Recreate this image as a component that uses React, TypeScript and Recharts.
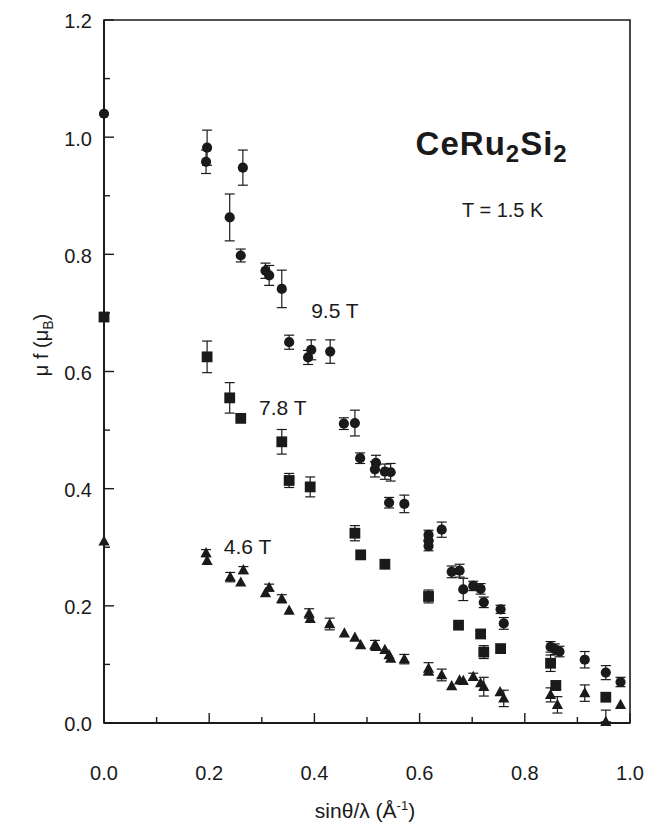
import React from 'react';
import { ScatterChart, Scatter, XAxis, YAxis, ErrorBar, ReferenceDot, ReferenceArea } from 'recharts';

type Pt = { x: number; y: number; e?: number | [number, number] };

const xTicks = [0, 0.1, 0.2, 0.3, 0.4, 0.5, 0.6, 0.7, 0.8, 0.9, 1.0];
const yTicks = [0, 0.1, 0.2, 0.3, 0.4, 0.5, 0.6, 0.7, 0.8, 0.9, 1.0, 1.1, 1.2];

const field95: Pt[] = [
  { x: 0.0, y: 1.04 },
  { x: 0.196, y: 0.982, e: 0.03 },
  { x: 0.194, y: 0.958, e: 0.02 },
  { x: 0.264, y: 0.948, e: 0.03 },
  { x: 0.239, y: 0.863, e: 0.04 },
  { x: 0.26, y: 0.798, e: 0.011 },
  { x: 0.307, y: 0.772, e: 0.013 },
  { x: 0.314, y: 0.764, e: 0.017 },
  { x: 0.338, y: 0.741, e: 0.032 },
  { x: 0.352, y: 0.65, e: 0.012 },
  { x: 0.394, y: 0.637, e: 0.017 },
  { x: 0.388, y: 0.624, e: 0.012 },
  { x: 0.43, y: 0.634, e: 0.02 },
  { x: 0.456, y: 0.511, e: 0.01 },
  { x: 0.477, y: 0.512, e: 0.022 },
  { x: 0.487, y: 0.452, e: 0.009 },
  { x: 0.517, y: 0.444, e: 0.013 },
  { x: 0.515, y: 0.433, e: 0.013 },
  { x: 0.534, y: 0.429, e: 0.013 },
  { x: 0.545, y: 0.428, e: 0.015 },
  { x: 0.542, y: 0.376, e: 0.009 },
  { x: 0.571, y: 0.374, e: 0.015 },
  { x: 0.617, y: 0.321, e: 0.008 },
  { x: 0.617, y: 0.311 },
  { x: 0.617, y: 0.302, e: 0.008 },
  { x: 0.642, y: 0.33, e: 0.013 },
  { x: 0.661, y: 0.258, e: 0.01 },
  { x: 0.676, y: 0.26, e: 0.011 },
  { x: 0.683, y: 0.228, e: 0.019 },
  { x: 0.702, y: 0.234, e: 0.008 },
  { x: 0.716, y: 0.229, e: 0.009 },
  { x: 0.722, y: 0.206, e: 0.009 },
  { x: 0.754, y: 0.194, e: 0.007 },
  { x: 0.76, y: 0.17, e: 0.01 },
  { x: 0.849, y: 0.13, e: 0.009 },
  { x: 0.857, y: 0.126, e: 0.009 },
  { x: 0.866, y: 0.122, e: 0.009 },
  { x: 0.914, y: 0.108, e: 0.014 },
  { x: 0.954, y: 0.086, e: 0.012 },
  { x: 0.982, y: 0.07, e: 0.008 },
];

const field78: Pt[] = [
  { x: 0.0, y: 0.693 },
  { x: 0.196, y: 0.625, e: 0.027 },
  { x: 0.239, y: 0.555, e: 0.026 },
  { x: 0.26, y: 0.52 },
  { x: 0.338, y: 0.48, e: 0.021 },
  { x: 0.352, y: 0.414, e: 0.012 },
  { x: 0.392, y: 0.403, e: 0.017 },
  { x: 0.477, y: 0.324, e: 0.013 },
  { x: 0.488, y: 0.287 },
  { x: 0.534, y: 0.271 },
  { x: 0.617, y: 0.216, e: 0.011 },
  { x: 0.674, y: 0.167 },
  { x: 0.716, y: 0.152 },
  { x: 0.722, y: 0.121, e: 0.011 },
  { x: 0.754, y: 0.127 },
  { x: 0.849, y: 0.102, e: 0.014 },
  { x: 0.859, y: 0.064, e: 0.008 },
  { x: 0.954, y: 0.044 },
];

const field46: Pt[] = [
  { x: 0.0, y: 0.31 },
  { x: 0.194, y: 0.29, e: 0.006 },
  { x: 0.196, y: 0.277 },
  { x: 0.24, y: 0.249, e: 0.008 },
  { x: 0.265, y: 0.261, e: 0.006 },
  { x: 0.26, y: 0.24 },
  { x: 0.307, y: 0.222 },
  { x: 0.314, y: 0.231, e: 0.006 },
  { x: 0.338, y: 0.212, e: 0.007 },
  { x: 0.352, y: 0.192 },
  { x: 0.39, y: 0.187, e: 0.008 },
  { x: 0.392, y: 0.178 },
  { x: 0.429, y: 0.169, e: 0.01 },
  { x: 0.457, y: 0.153 },
  { x: 0.477, y: 0.146 },
  { x: 0.488, y: 0.133 },
  { x: 0.515, y: 0.133, e: 0.008 },
  { x: 0.518, y: 0.13 },
  { x: 0.534, y: 0.125 },
  { x: 0.542, y: 0.116 },
  { x: 0.545, y: 0.11 },
  { x: 0.571, y: 0.109, e: 0.008 },
  { x: 0.617, y: 0.093, e: 0.01 },
  { x: 0.617, y: 0.088 },
  { x: 0.642, y: 0.082, e: 0.01 },
  { x: 0.661, y: 0.063 },
  { x: 0.676, y: 0.073 },
  { x: 0.683, y: 0.072 },
  { x: 0.702, y: 0.079, e: 0.006 },
  { x: 0.716, y: 0.068 },
  { x: 0.722, y: 0.062, e: 0.016 },
  { x: 0.753, y: 0.053 },
  { x: 0.76, y: 0.042, e: 0.014 },
  { x: 0.849, y: 0.048, e: 0.012 },
  { x: 0.862, y: 0.031, e: 0.014 },
  { x: 0.914, y: 0.051, e: 0.014 },
  { x: 0.954, y: 0.002, e: [0, 0.02] },
  { x: 0.982, y: 0.031 },
];

const fieldLabels = [
  { text: '9.5 T', x: 0.439, y: 0.705 },
  { text: '7.8 T', x: 0.34, y: 0.539 },
  { text: '4.6 T', x: 0.273, y: 0.302 },
];
const compound = { main1: 'CeRu', sub1: '2', main2: 'Si', sub2: '2', x: 0.737, y: 0.99 };
const tempLabel = { text: 'T = 1.5 K', x: 0.758, y: 0.876 };

const INK = '#1a1a1a';
const FONT = '"Liberation Sans", Arial, Helvetica, sans-serif';
const X_MARGIN = 50;
const Y_MARGIN = 12;

const isMajor = (v: number) => Math.round(v * 10) % 2 === 0;

const XTick = (props: any) => {
  const { x, y, payload } = props;
  const v = payload.value as number;
  const major = isMajor(v);
  const axisY = y - X_MARGIN;
  return (
    <g>
      <line x1={x} x2={x} y1={axisY} y2={axisY - (major ? 10 : 6)} stroke={INK} strokeWidth={1.4} />
      {major && (
        <text x={x} y={y} dy="0.36em" textAnchor="middle" fontSize={20} fontFamily={FONT} fill={INK}>
          {v.toFixed(1)}
        </text>
      )}
    </g>
  );
};

const YTick = (props: any) => {
  const { x, y, payload } = props;
  const v = payload.value as number;
  const major = isMajor(v);
  const axisX = x + Y_MARGIN;
  return (
    <g>
      <line x1={axisX} x2={axisX + (major ? 10 : 6)} y1={y} y2={y} stroke={INK} strokeWidth={1.4} />
      {major && (
        <text x={x} y={y} dy="0.42em" textAnchor="end" fontSize={20} fontFamily={FONT} fill={INK}>
          {v.toFixed(1)}
        </text>
      )}
    </g>
  );
};

const CircleShape = (p: any) => <circle cx={p.cx} cy={p.cy} r={5.1} fill={INK} />;
const SquareShape = (p: any) => <rect x={p.cx - 5.4} y={p.cy - 5.4} width={10.8} height={10.8} fill={INK} />;
const TriangleShape = (p: any) => (
  <polygon points={`${p.cx},${p.cy - 6} ${p.cx - 5.6},${p.cy + 4.2} ${p.cx + 5.6},${p.cy + 4.2}`} fill={INK} />
);

const textLabel = (text: string, size: number) => (props: any) => {
  const vb = props.viewBox || {};
  const cx = vb.x + (vb.width || 0) / 2;
  const cy = vb.y + (vb.height || 0) / 2;
  return (
    <text x={cx} y={cy} dy="0.36em" textAnchor="middle" fontSize={size} fontFamily={FONT} fill={INK}>
      {text}
    </text>
  );
};

const compoundLabel = (props: any) => {
  const vb = props.viewBox || {};
  const cx = vb.x + (vb.width || 0) / 2;
  const cy = vb.y + (vb.height || 0) / 2;
  return (
    <text x={cx} y={cy} dy="0.36em" textAnchor="middle" fontSize={33} fontWeight="bold" fontFamily={FONT} fill={INK} letterSpacing={1}>
      {compound.main1}
      <tspan fontSize={24} dy="7">{compound.sub1}</tspan>
      <tspan fontSize={33} dy="-7">{compound.main2}</tspan>
      <tspan fontSize={24} dy="7">{compound.sub2}</tspan>
    </text>
  );
};

export default function App() {
  return (
    <div style={{ position: 'absolute', left: 0, top: 0, width: 647, height: 824, background: '#fff' }}>
      <ScatterChart width={647} height={824} margin={{ top: 20, right: 17, bottom: 41, left: 0 }}>
        <XAxis
          type="number"
          dataKey="x"
          domain={[0, 1]}
          ticks={xTicks}
          interval={0}
          height={60}
          tickSize={0}
          tickMargin={X_MARGIN}
          tickLine={false}
          tick={<XTick />}
          axisLine={{ stroke: INK, strokeWidth: 1.8 }}
        />
        <YAxis
          type="number"
          dataKey="y"
          domain={[0, 1.2]}
          ticks={yTicks}
          interval={0}
          width={104}
          tickSize={0}
          tickMargin={Y_MARGIN}
          tickLine={false}
          tick={<YTick />}
          axisLine={{ stroke: INK, strokeWidth: 1.8 }}
        />
        <ReferenceArea x1={0} x2={1} y1={0} y2={1.2} fill="none" stroke={INK} strokeWidth={1.6} ifOverflow="visible" />
        <Scatter data={field95} shape={CircleShape} isAnimationActive={false}>
          <ErrorBar dataKey="e" direction="y" width={5} stroke={INK} strokeWidth={1.2} />
        </Scatter>
        <Scatter data={field78} shape={SquareShape} isAnimationActive={false}>
          <ErrorBar dataKey="e" direction="y" width={5} stroke={INK} strokeWidth={1.2} />
        </Scatter>
        <Scatter data={field46} shape={TriangleShape} isAnimationActive={false}>
          <ErrorBar dataKey="e" direction="y" width={5} stroke={INK} strokeWidth={1.2} />
        </Scatter>
        {fieldLabels.map((l) => (
          <ReferenceDot key={l.text} x={l.x} y={l.y} r={0} fill="none" stroke="none" ifOverflow="visible" label={textLabel(l.text, 21)} />
        ))}
        <ReferenceDot x={compound.x} y={compound.y} r={0} fill="none" stroke="none" ifOverflow="visible" label={compoundLabel} />
        <ReferenceDot x={tempLabel.x} y={tempLabel.y} r={0} fill="none" stroke="none" ifOverflow="visible" label={textLabel(tempLabel.text, 20)} />
      </ScatterChart>
      <svg width={647} height={824} style={{ position: 'absolute', left: 0, top: 0, pointerEvents: 'none' }}>
        <text x={41} y={345} transform="rotate(-90 41 345)" dy="0.36em" textAnchor="middle" fontSize={20} fontFamily={FONT} fill={INK}>
          μ f (μ<tspan fontSize={14} dy="5">B</tspan><tspan dy="-5">)</tspan>
        </text>
        <text x={365} y={810} dy="0.36em" textAnchor="middle" fontSize={21} fontFamily={FONT} fill={INK}>
          sinθ/λ (Å<tspan fontSize={13} dy="-8">-1</tspan><tspan dy="8">)</tspan>
        </text>
      </svg>
    </div>
  );
}
